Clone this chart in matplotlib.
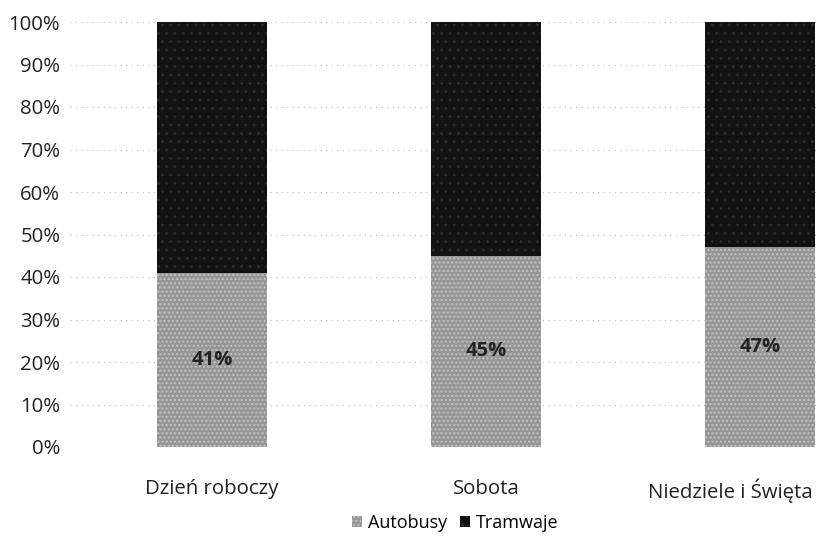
import numpy as np
import matplotlib.pyplot as plt
import matplotlib.transforms as mtransforms
from matplotlib.ticker import PercentFormatter

plt.rcParams['font.family'] = ['Open Sans', 'DejaVu Sans']

# dane
kategorie = ["Dzień roboczy", "Sobota", "Niedziele i Święta"]
autobusy = [41, 45, 47]
tramwaje = [59, 55, 53]
etykiety = ["41%", "45%", "47%"]

fig = plt.figure(figsize=(8.2, 5.4), dpi=100)
ax = fig.add_axes([70/820, 93/540, 750/820, 425/540])

x = np.arange(len(kategorie))
szer = 0.40
b1 = ax.bar(x, autobusy, szer, color="#959595", label="Autobusy",
            hatch="....", edgecolor="#c4c4c4", linewidth=0)
b2 = ax.bar(x, tramwaje, szer, bottom=autobusy, color="#111111",
            label="Tramwaje", hatch="..", edgecolor="#2a2a2a", linewidth=0)

for i in range(len(x)):
    ax.text(x[i], autobusy[i] / 2, etykiety[i], ha="center", va="center",
            fontsize=14.5, fontweight="bold", color="#222222")

ax.set_xlim(-0.518, 2.219)
ax.set_ylim(0, 100)
ax.set_yticks(np.arange(0, 101, 10))
ax.yaxis.set_major_formatter(PercentFormatter(decimals=0))
ax.set_xticks(x)
ax.set_xticklabels(kategorie)
ax.tick_params(axis="both", length=0, labelsize=14.7, colors="#222222")
ax.tick_params(axis="y", pad=7)
ax.tick_params(axis="x", pad=23)
# ostatnia etykieta przesunieta w lewo, zeby sie miescila
przes = mtransforms.ScaledTranslation(-30/100, 0, fig.dpi_scale_trans)
lab = ax.get_xticklabels()[2]
lab.set_transform(lab.get_transform() + przes)
ax.yaxis.grid(True, linestyle=(0, (1, 4)), color="#bbbbbb", linewidth=0.8)
ax.set_axisbelow(True)
for s in ax.spines.values():
    s.set_visible(False)

fig.legend(handles=[b1, b2], loc="center", bbox_to_anchor=(455/820, 17/540),
           ncol=2, frameon=False, fontsize=13, handlelength=0.6,
           handleheight=0.6, handletextpad=0.3, columnspacing=0.7)

fig.savefig("out.png")
